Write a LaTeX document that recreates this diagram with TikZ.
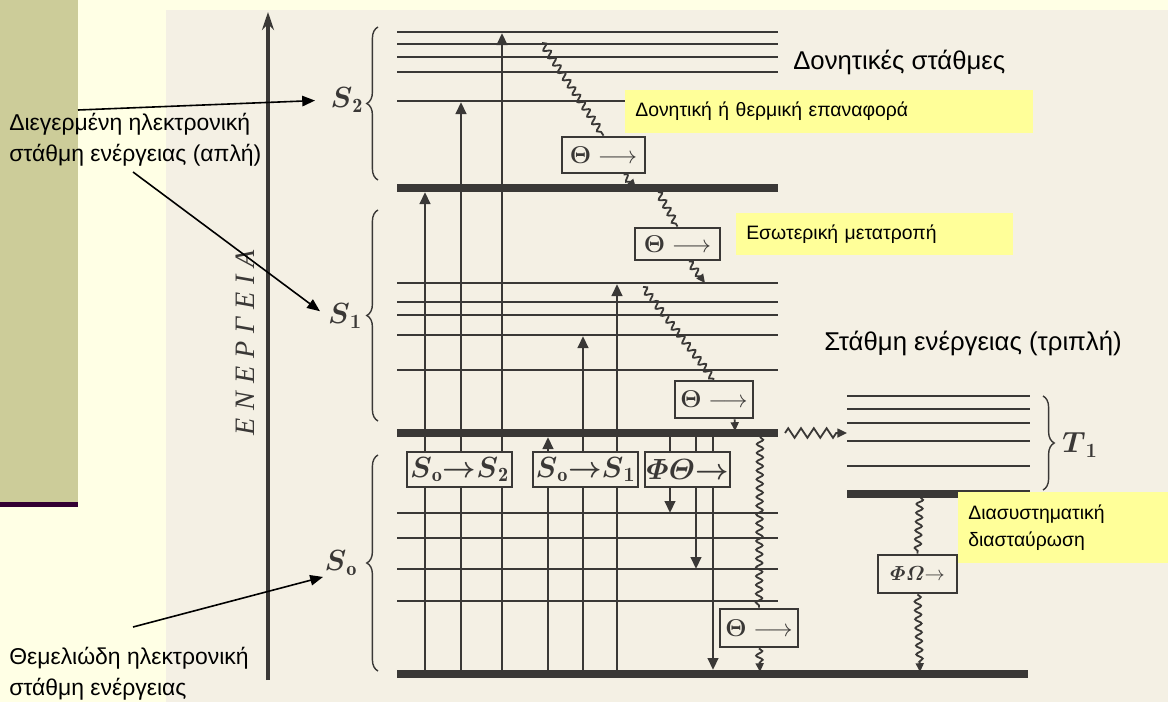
\documentclass[tikz,border=0pt]{standalone}
\usepackage{amsmath,amsbsy}
\usepackage{fontspec}
\newfontfamily\grsans{Liberation Sans}
\newfontfamily\grserif{Liberation Serif}[LetterSpace=28]
\usetikzlibrary{arrows.meta,decorations.pathmorphing,decorations.pathreplacing}
\definecolor{pagebg}{HTML}{FFFFE5}
\definecolor{olive}{HTML}{CCCC99}
\definecolor{plum}{HTML}{330033}
\definecolor{scan}{HTML}{F4F0E4}
\definecolor{ink}{HTML}{3A3836}
\definecolor{notey}{HTML}{FFFF99}
\tikzset{
    lvl/.style={draw=ink,line width=0.5mm},
    lvlbase/.style={draw=ink,line width=2mm},
    lvlbrace/.style={draw=ink,line width=0.35mm,decorate,decoration={brace,amplitude=2.8mm}},
    lvlname/.style={text=ink,inner sep=1pt,font=\fontsize{20.74}{22}\selectfont},
    excite/.style={draw=ink,line width=0.7mm,-{Triangle[length=3mm,width=2.6mm]}},
    trbox/.style={draw=ink,line width=0.7mm,fill=scan,inner sep=1pt,minimum height=8.75mm,text=ink,font=\fontsize{20.74}{22}\selectfont},
    thbox/.style={trbox,font=\fontsize{18.5}{20}\selectfont},
    wavy/.style={draw=ink,line width=0.45mm,decorate,decoration={snake,amplitude=0.8mm,segment length=2.2mm}},
    wavyarrow/.style={draw=ink,line width=0.45mm,decorate,decoration={snake,amplitude=0.8mm,segment length=2.2mm,post length=1.8mm},-{Triangle[length=2.2mm,width=2mm]}},
    zigzagarrow/.style={draw=ink,line width=0.45mm,decorate,decoration={zigzag,amplitude=1.2mm,segment length=3.2mm,post length=2mm},-{Triangle[length=2.4mm,width=2.2mm]}},
    notebox/.style={fill=notey,inner xsep=2.5mm,inner ysep=1mm,align=left,font=\grsans\fontsize{13.8}{19}\selectfont},
    biglabel/.style={inner sep=0pt,font=\grsans\fontsize{18.3}{20}\selectfont},
    sidelabel/.style={inner sep=0pt,align=left,font=\grsans\fontsize{16.3}{22}\selectfont},
    annoarrow/.style={draw=black,line width=0.4mm,-{Triangle[length=3.2mm,width=2.6mm]}}
}
\begin{document}
\begin{tikzpicture}[x=0.025cm,y=-0.025cm]
    % background
    \fill[pagebg] (0,0) rectangle (1168,702);
    \useasboundingbox (0,0) rectangle (1168,702);
    \fill[olive] (0,0) rectangle (78,502);
    \fill[plum] (0,502) rectangle (78,507);
    \fill[scan] (166,10) rectangle (1168,702);
    % energy axis
    \draw[ink,line width=0.8mm,-{Stealth[length=4.5mm,width=3mm]}] (268,680) -- (268,12);
    \node[rotate=90,text=ink,font=\grserif\itshape\fontsize{20}{22}\selectfont] (energy) at (245,343) {ΕΝΕΡΓΕΙΑ};
    % vibrational levels
    \foreach \y in {32,44,57,72,101,283,302,315,335,370,513,538,569,601}
        \draw[lvl] (397,\y) -- (778,\y);
    \foreach \y in {188,433}
        \draw[lvlbase] (397,\y) -- (778,\y);
    \draw[lvlbase] (397,674) -- (1028,674);
    \foreach \y in {396,409,423,441,466}
        \draw[lvl] (847,\y) -- (1030,\y);
    \draw[lvlbase] (847,494) -- (1030,494);
    % braces and names
    \draw[lvlbrace] (378,180) -- (378,27);
    \draw[lvlbrace] (378,421) -- (378,210);
    \draw[lvlbrace] (378,671) -- (378,455);
    \draw[lvlbrace] (1043,396) -- (1043,490);
    \node[lvlname] (s2lab) at (347,100) {$\boldsymbol{S}_{\mathbf{2}}$};
    \node[lvlname] (s1lab) at (345,316) {$\boldsymbol{S}_{\boldsymbol{1}}$};
    \node[lvlname] (s0lab) at (341,563) {$\boldsymbol{S}_{\mathbf{o}}$};
    \node[lvlname] (t1lab) at (1080,445) {$\boldsymbol{T}_{\boldsymbol{1}}$};
    % absorption and emission
    \foreach \x/\y in {425/192,461/102,502/33,548/437,583/336,617/284}
        \draw[excite] (\x,674) -- (\x,\y);
    \foreach \x/\y in {670/513,696/569,713/670}
        \draw[excite] (\x,433) -- (\x,\y);
    % process boxes
    \node[trbox,minimum width=26.25mm] (s02) at (459.5,469.5) {$\boldsymbol{S}_{\mathbf{o}}{\boldsymbol{\rightarrow}}\boldsymbol{S}_{\mathbf{2}}$};
    \node[trbox,minimum width=26.25mm] (s01) at (585.5,469.5) {$\boldsymbol{S}_{\mathbf{o}}{\boldsymbol{\rightarrow}}\boldsymbol{S}_{\boldsymbol{1}}$};
    \node[trbox,minimum width=19.75mm] (phth) at (687.5,469.5) {$\boldsymbol{\varPhi\varTheta}{\boldsymbol{\rightarrow}}$};
    \node[thbox,minimum width=20.75mm,minimum height=9mm] (th1) at (603.5,155) {$\boldsymbol{\Theta}\longrightarrow$};
    \node[thbox,minimum width=21.25mm,minimum height=8mm] (th2) at (677.5,244) {$\boldsymbol{\Theta}\longrightarrow$};
    \node[thbox,minimum width=19.5mm,minimum height=9.25mm] (th3) at (714,399.5) {$\boldsymbol{\Theta}\longrightarrow$};
    \node[thbox,minimum width=19.5mm,minimum height=9.5mm] (th4) at (759,628) {$\boldsymbol{\Theta}\longrightarrow$};
    \node[trbox,minimum width=19.75mm,minimum height=9.5mm,font=\fontsize{14.4}{16}\selectfont] (phom) at (917.5,574) {$\boldsymbol{\varPhi\varOmega}{\rightarrow}$};
    % radiationless paths
    \coordinate (s2top) at (542,43);
    \coordinate (s2base) at (636,188);
    \coordinate (s2base-out) at (658,192);
    \coordinate (s1top) at (705,283);
    \coordinate (s1top-out) at (643,287);
    \coordinate (s1base) at (735,431);
    \coordinate (s1base-out) at (760,437);
    \coordinate (s0base) at (760,672);
    \coordinate (isc-out) at (785,433);
    \coordinate (t1edge) at (847,433);
    \coordinate (t1base) at (920,497);
    \coordinate (s0base-t) at (920,672);
    \draw[wavy] (s2top) -- (th1.north);
    \draw[wavyarrow] (th1.-44) -- (s2base);
    \draw[wavy] (s2base-out) -- (th2.north);
    \draw[wavyarrow] (th2.-57) -- (s1top);
    \draw[wavy] (s1top-out) -- (th3.north);
    \draw[wavyarrow] (th3.-44) -- (s1base);
    \draw[wavy] (s1base-out) -- (th4.north);
    \draw[wavyarrow] (th4.south) -- (s0base);
    \draw[zigzagarrow] (isc-out) -- (t1edge);
    \draw[wavy] (t1base) -- (phom.north);
    \draw[wavyarrow] (phom.south) -- (s0base-t);
    % notes
    \node[notebox,anchor=west,text width=97mm,minimum height=10.75mm] (vibnote) at (625,111.5) {Δονητική ή θερμική επαναφορά};
    \node[notebox,anchor=west,text width=64.25mm,minimum height=10.5mm] (icnote) at (736,234) {Εσωτερική μετατροπή};
    \node[notebox,anchor=west,text width=47.5mm,minimum height=17.75mm] (iscnote) at (958,527.5) {Διασυστηματική\\διασταύρωση};
    \node[biglabel,anchor=west] (vibtitle) at (793,62) {Δονητικές στάθμες};
    \node[biglabel] (triptitle) at (973,343) {Στάθμη ενέργειας (τριπλή)};
    \node[sidelabel,anchor=north west] (excited) at (9,113) {Διεγερμένη ηλεκτρονική\\στάθμη ενέργειας (απλή)};
    \node[sidelabel,anchor=north west] (ground) at (9,647) {Θεμελιώδη ηλεκτρονική\\στάθμη ενέργειας};
    % pointers
    \coordinate (excited-a) at (78,110);
    \coordinate (excited-b) at (133,172);
    \coordinate (ground-a) at (133,627);
    \draw[annoarrow,shorten >=3.5mm] (excited-a) -- (s2lab.west);
    \draw[annoarrow,shorten >=2mm] (excited-b) -- (s1lab.west);
    \draw[annoarrow] (ground-a) -- (s0lab.south west);
\end{tikzpicture}
\end{document}
